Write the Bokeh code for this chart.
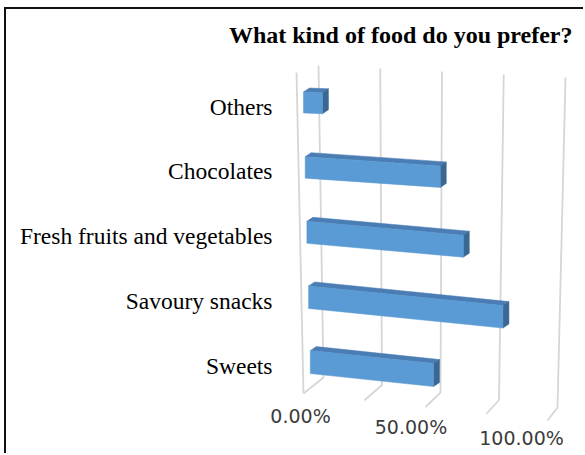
import numpy as np
from bokeh.plotting import figure
from bokeh.models import Range1d, FixedTicker, ColumnDataSource, Title
from bokeh.core.properties import value
from bokeh.embed import file_html
from bokeh.resources import INLINE

# ---------------- data ----------------
categories = ["Others", "Chocolates", "Fresh fruits and vegetables", "Savoury snacks", "Sweets"]
shares = [8, 57, 66, 82, 52]          # percent of respondents
grid_values = [0, 25, 50, 75, 100]     # value-axis gridlines (percent)
tick_values = [0, 50, 100]
tick_labels = ["0.00%", "50.00%", "100.00%"]
title_text = "What kind of food do you prefer?"

# ---------------- pseudo-3D projection (style constants) ----------------
PXU = 2.37    # screen px per percent (front plane)
PYU = 64.9    # screen px per category row
X_ORIGIN = 305.0   # screen x of 0 % on the front plane
Y_ORIGIN = 106.0   # screen y of first category row
OX, OY = 6, 9      # where the canvas starts on the page

def X(px):
    return (px - X_ORIGIN) / PXU

def Y(py):
    return (py - Y_ORIGIN) / PYU

W, H = 579, 446
FL, FR, FT, FB = 262, 572, 55, 455   # frame edges on the page
p = figure(width=W, height=H, output_backend="svg", toolbar_location=None,
           x_axis_location=None,
           min_border_left=FL - OX, min_border_right=OX + W - FR,
           min_border_top=FT - OY, min_border_bottom=OY + H - FB,
           x_range=Range1d(X(FL), X(FR)), y_range=Range1d(Y(FB), Y(FT)))
p.styles = {"border-top": "2px solid #111111", "border-left": "2px solid #111111",
            "margin-left": "4px", "margin-top": "7px"}
p.outline_line_color = None
p.grid.visible = False
p.background_fill_color = "white"
p.border_fill_color = "white"

p.title = Title(text=title_text, align="right", text_font="Liberation Serif",
                text_font_style="bold", text_font_size="24px", text_color="#000000",
                standoff=16)

# category axis
yax = p.yaxis[0]
yax.ticker = FixedTicker(ticks=list(range(len(categories))))
yax.major_label_overrides = {i: c for i, c in enumerate(categories)}
yax.major_label_text_font = "Liberation Serif"
yax.major_label_text_font_size = "23.5px"
yax.major_label_text_color = "#000000"
yax.axis_line_color = None
yax.major_tick_line_color = None
yax.minor_tick_line_color = None
yax.major_tick_out = 0
yax.major_tick_in = 0
yax.major_label_standoff = FL - 272

# ---------------- walls / gridlines ----------------
gxs, gys = [], []
for g in grid_values:
    bt = (318 + 2.47 * g, 65 + 0.12 * g)
    bb = (323 + 2.34 * g, 377 + 0.30 * g)
    fr = (303 + 2.44 * g, 393 + 0.27 * g)
    gxs.append([X(bt[0]), X(bb[0]), X(fr[0])])
    gys.append([Y(bt[1]), Y(bb[1]), Y(fr[1])])
# front edge of the side wall
gxs.append([X(296), X(303)])
gys.append([Y(72), Y(393)])
p.multi_line(gxs, gys, line_color="#d6d6d6", line_width=1.8)

# ---------------- 3D bars ----------------
dX = 6 / PXU
dY = -4 / PYU
fx, fy, tx, ty, sx, sy = [], [], [], [], [], []
for r, v in enumerate(shares):
    x0 = X(303 + 1.7 * r)
    xe = x0 + v
    s_px = 0.105 - 0.065 * ((4 - r) / 4) ** 2
    rise = s_px * v * PXU / PYU
    yc = r - 4 / PYU
    hh = (21 + 0.5 * r) / 2 / PYU
    top0, bot0 = yc - hh, yc + hh
    top1, bot1 = top0 + rise, bot0 + rise
    fx.append([x0, xe, xe, x0]); fy.append([top0, top1, bot1, bot0])
    tx.append([x0, xe, xe + dX, x0 + dX]); ty.append([top0, top1, top1 + dY, top0 + dY])
    sx.append([xe, xe + dX, xe + dX, xe]); sy.append([top1, top1 + dY, bot1 + dY, bot1])

p.patches(tx, ty, fill_color="#4a7db3", line_color="#4a7db3", line_width=0.5)
p.patches(sx, sy, fill_color="#3b6893", line_color="#3b6893", line_width=0.5)
p.patches(fx, fy, fill_color="#5b9bd5", line_color="#5596cf", line_width=0.5)

# ---------------- value-axis labels (perspective floor) ----------------
lab = ColumnDataSource(dict(
    x=[X(300 + 2.21 * t) for t in tick_values],
    y=[Y(415 + 0.22 * t) for t in tick_values],
    text=tick_labels))
p.text(x="x", y="y", text="text", source=lab, text_font=value("DejaVu Sans"),
       text_font_size="19px", text_align="center", text_baseline="middle",
       text_color="#3c3c3c")

open("out.html", "w").write(file_html(p, INLINE))
